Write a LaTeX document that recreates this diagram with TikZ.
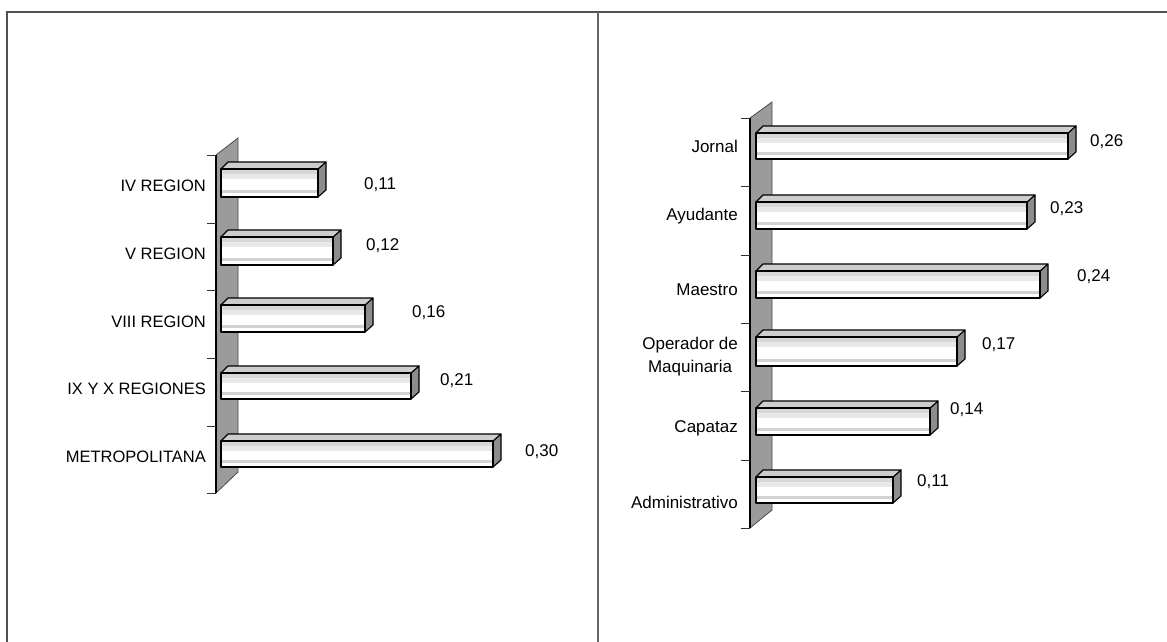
\documentclass[tikz,border=0pt]{standalone}
\usepackage{fontspec}
\setmainfont{Liberation Sans}
\definecolor{wallgray}{RGB}{155,155,155}
\definecolor{sidegray}{RGB}{140,140,140}
\definecolor{topgray}{RGB}{205,205,205}
\definecolor{band1}{RGB}{215,215,215}
\definecolor{band2}{RGB}{232,232,232}
\definecolor{band3}{RGB}{210,210,210}
\definecolor{framegray}{RGB}{80,80,80}
\tikzset{
  frameline/.style={draw=framegray,line width=1.4pt},
  wallface/.style={fill=wallgray,draw=black!70,line width=0.8pt},
  tickline/.style={draw=black!80,line width=0.8pt},
  barline/.style={draw=black,line width=1.1pt,line join=round},
  catlabel/.style={anchor=east,inner sep=0pt,font=\fontsize{16.5}{19}\selectfont},
  catlabelr/.style={anchor=east,inner sep=0pt,align=center,font=\fontsize{17}{23}\selectfont},
  vallabel/.style={anchor=west,inner sep=0pt,font=\fontsize{17}{20}\selectfont}
}
% #1 x0, #2 ytop, #3 ybot, #4 xright
\newcommand{\drawbar}[4]{%
  \fill[sidegray,barline] (#4,#2) -- (#4+8,#2-7) -- (#4+8,#3-7) -- (#4,#3) -- cycle;
  \fill[topgray,barline] (#1,#2) -- (#1+7,#2-7) -- (#4+8,#2-7) -- (#4,#2) -- cycle;
  \fill[white] (#1,#2) rectangle (#4,#3);
  \fill[band1] (#1,#2) rectangle (#4,#2+5);
  \fill[band2] (#1,#2+5) rectangle (#4,#2+10);
  \fill[band3] (#1,#3-7) rectangle (#4,#3-4);
  \draw[barline] (#1,#2) rectangle (#4,#3);
}
\begin{document}
\begin{tikzpicture}[x=1pt,y=-1pt]
\useasboundingbox (0,0) rectangle (1167,642);
\fill[white] (0,0) rectangle (1167,642);
% frame
\coordinate (ftl) at (7,12);
\coordinate (ftr) at (1167,12);
\coordinate (fbl) at (7,642);
\coordinate (fmt) at (598,12);
\coordinate (fmb) at (598,642);
\draw[frameline] (fbl) -- (ftl) -- (ftr);
\draw[frameline,draw=gray!80!black,line width=1.2pt] (fmt) -- (fmb);

% ---------- left chart ----------
\filldraw[wallface] (216,155) -- (238,138) -- (238,472) -- (216,493) -- cycle;
\draw[black,line width=1.1pt] (216,155) -- (216,493);
\foreach \yy in {155,223,290,358,426,493} \draw[tickline] (207,\yy) -- (216,\yy);

\drawbar{221}{169}{197}{318}
\drawbar{221}{237}{265}{333}
\drawbar{221}{305}{332}{365}
\drawbar{221}{373}{399}{411}
\drawbar{221}{441}{467}{493}

\node[catlabel] (l1) at (206,186) {IV REGION};
\node[catlabel] (l2) at (206,254) {V REGION};
\node[catlabel] (l3) at (206,322) {VIII REGION};
\node[catlabel] (l4) at (206,389) {IX Y X REGIONES};
\node[catlabel] (l5) at (206,457) {METROPOLITANA};

\node[vallabel] (v1) at (364,185) {0,11};
\node[vallabel] (v2) at (366,246) {0,12};
\node[vallabel] (v3) at (412,313) {0,16};
\node[vallabel] (v4) at (440,381) {0,21};
\node[vallabel] (v5) at (525,452) {0,30};

% ---------- right chart ----------
\filldraw[wallface] (750,118) -- (772,102) -- (772,510) -- (750,528) -- cycle;
\draw[black,line width=1.1pt] (750,118) -- (750,528);
\foreach \yy in {118,186,255,323,391,460,528} \draw[tickline] (741,\yy) -- (750,\yy);

\drawbar{756}{133}{159}{1068}
\drawbar{756}{202}{229}{1027}
\drawbar{756}{271}{298}{1040}
\drawbar{756}{337}{366}{957}
\drawbar{756}{408}{435}{930}
\drawbar{756}{477}{503}{893}

\node[catlabelr] (r1) at (738,146) {Jornal};
\node[catlabelr] (r2) at (738,216) {Ayudante};
\node[catlabelr] (r3) at (738,290) {Maestro};
\node[catlabelr] (r4) at (738,357) {Operador de\\Maquinaria};
\node[catlabelr] (r5) at (738,428) {Capataz};
\node[catlabelr] (r6) at (738,502) {Administrativo};

\node[vallabel] (w1) at (1090,142) {0,26};
\node[vallabel] (w2) at (1050,209) {0,23};
\node[vallabel] (w3) at (1077,277) {0,24};
\node[vallabel] (w4) at (982,345) {0,17};
\node[vallabel] (w5) at (950,410) {0,14};
\node[vallabel] (w6) at (917,482) {0,11};
\end{tikzpicture}
\end{document}
